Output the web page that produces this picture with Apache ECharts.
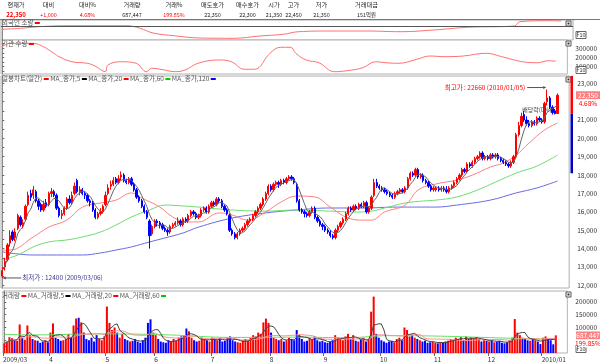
<!DOCTYPE html>
<html><head><meta charset="utf-8">
<script src="https://cdn.jsdelivr.net/npm/echarts@6.0.0/dist/echarts.min.js"></script>
<style>html,body{margin:0;padding:0;background:#fff;}#c{width:600px;height:363px;}</style></head>
<body><div id="c"></div>
<script>
const FONT = '"Noto Sans CJK KR","DejaVu Sans",sans-serif';

// ---- top table ----
const headers = ['현재가','대비','대비%','거래량','거래%','매도호가','매수호가','시가','고가','저가','거래대금'];
const headValues = ['22,350','+1,000','4.68%','687,447','199.85%','22,350','22,300','21,350','22,450','21,350','151억원'];

// ---- month labels (first trading day index) ----
const monthIdx = [0,18,40,59,81,104,125,147,168,189,210];
const monthLabels = ['2009/03','4','5','6','7','8','9','10','11','12','2010/01'];

// ---- daily prices (hundreds of won) ----
const opens = [125,130,134,143,149,146,151,157,153,156,
164,170,169,171,166,164,161,165,164,170,
171,169,162,158,159,162,167,165,170,177,
171,172,170,169,166,165,161,157,159,160,
164,170,174,175,178,176,179,180,177,176,
178,175,172,168,166,163,160,155,148,152,
155,154,153,151,150,149,152,153,154,155,
153,156,155,158,160,159,157,158,161,162,
160,163,165,164,167,166,163,161,158,150,
148,146,148,150,151,153,155,156,158,160,
162,164,167,170,174,172,175,176,175,177,
176,178,179,178,175,166,161,160,159,158,
160,162,157,155,153,152,150,149,147,146,
150,152,154,156,159,162,161,163,162,164,
163,165,160,162,169,176,174,173,172,171,
170,169,168,170,171,172,171,173,178,181,
180,183,179,180,177,176,174,172,172,173,
172,173,172,171,173,174,176,178,180,183,
182,186,185,187,189,190,192,189,190,189,
191,190,191,189,188,187,186,185,187,190,
202,207,213,210,208,207,209,208,211,210,
209,220,222,217,215,213.5];
const closes = [128,133,142,147,145,149,158,153,154,163,
169,168,172,166,163,161,164,163,170,171,
169,162,158,159,162,167,165,169,174,171,
172,170,169,166,165,161,157,159,160,163,
169,173,175,177,176,178,180,177,176,178,
175,172,168,166,163,160,157,147,152,155,
154,153,151,150,149,152,153,154,155,153,
156,155,158,160,159,157,158,161,162,160,
163,165,164,167,166,163,161,159,150,148,
146,148,150,151,153,155,156,158,160,162,
164,167,170,174,172,175,176,175,177,176,
178,179,178,176,166,161,160,159,158,160,
162,157,155,153,152,150,149,147,146,150,
152,154,156,159,162,161,163,162,164,163,
165,160,162,168,176,174,173,172,171,170,
169,168,170,171,172,171,173,178,181,180,
183,179,180,177,176,174,172,173,173,172,
173,172,171,173,174,176,178,180,183,182,
186,185,187,189,190,192,189,190,189,191,
190,191,189,188,187,186,185,187,190,202,
207,212,210,208,207,209,208,211,210,209,
219,222,217,214,213.5,223.5];
const lows = [124,128,133,141,144,144,150,152,151,155,
163,166,167,165,161,160,160,162,163,168,
168,161,157,156,158,161,164,164,169,170,
169,169,167,165,163,160,156,156,158,159,
163,169,172,174,175,175,177,176,175,175,
174,171,167,165,162,159,156,140,147,151,
152,151,150,149,147,148,151,152,153,152,
152,154,154,157,158,156,156,157,160,159,
159,162,163,163,165,162,160,158,149,147,
145,145,147,149,150,152,154,155,157,159,
161,163,166,169,171,171,174,173,174,175,
175,177,177,175,165,160,159,157,157,157,
159,156,154,152,150,149,148,146,145,145,
149,151,153,155,158,160,160,161,161,162,
162,159,159,161,168,173,172,171,170,169,
168,167,167,169,170,170,170,172,177,179,
179,178,178,176,175,173,171,171,171,171,
171,171,170,170,172,173,175,177,179,181,
181,184,184,186,188,189,188,188,188,188,
189,189,188,187,186,185,184,184,186,189,
201,206,209,207,206,206,207,207,209,208,
208,218,216,213,213,213.5];
const highs = [130,135,143,150,150,151,159,158,156,164,
171,172,174,172,167,165,166,167,171,173,
172,170,163,161,163,168,169,171,176,178,
174,173,171,170,167,166,162,160,162,164,
171,175,177,179,179,180,182,181,178,179,
179,176,173,169,167,164,161,156,153,156,
156,155,154,152,151,153,154,155,157,156,
157,157,159,161,161,160,159,162,163,163,
164,166,166,168,168,167,164,162,159,151,
149,149,151,152,154,156,157,159,161,163,
165,168,171,175,175,176,177,177,178,178,
179,180,180,179,176,167,162,161,160,161,
163,163,158,156,154,153,151,150,148,151,
153,155,157,160,163,163,164,164,165,165,
166,166,163,169,178,178,175,174,173,172,
171,170,171,172,173,173,174,179,182,182,
184,184,181,181,178,177,175,174,174,174,
174,174,174,174,175,177,179,181,184,184,
187,187,188,190,191,193,193,191,191,192,
192,192,192,190,189,188,187,188,191,203,
209,214,215,212,210,210,210,212,212,211,
220,226.6,223,218,216,224.5];

// ---- daily volume (thousands, axis units) ----
const volumes = [38,45,62,58,50,48,112,60,52,108,
70,55,50,48,40,45,50,42,80,116,
60,55,48,50,55,75,62,108,135,138,
120,80,55,50,60,45,70,55,50,65,
182,118,90,100,80,60,75,55,50,45,
48,55,45,40,50,60,118,132,80,70,
55,45,42,40,50,45,55,48,60,65,
70,96,85,60,50,45,48,60,55,50,
45,60,55,50,58,45,48,60,65,50,
45,42,40,50,55,48,60,70,65,80,
75,120,135,118,80,60,55,50,55,45,
50,60,55,50,90,70,55,45,48,60,
55,65,50,45,48,42,40,45,50,70,
60,55,50,65,75,55,70,48,45,55,
60,45,55,162,221,75,60,50,45,40,
45,48,42,55,60,50,100,90,65,70,
60,55,50,45,48,40,42,45,40,38,
42,40,45,48,55,50,60,55,62,50,
65,55,60,58,62,55,45,50,48,45,
50,42,45,48,40,38,42,50,60,133,
80,70,60,58,50,48,55,50,45,35,
60,65,55,50,34,69];

// ---- moving averages: [dayIndex, price] ----
const ma20Pts = [[0,13920],[3,13920],[12,14630],[18,15170],[25,15550],[31,16260],[38,16480],[44,16640],[50,17030],[54,16750],[61,16260],[66,15720],[71,15450],[76,15450],[84,15940],[89,15830],[95,15550],[102,15990],[108,16540],[114,16860],[121,16810],[127,16260],[134,15660],[140,15550],[143,15550],[148,15990],[156,16370],[161,17190],[168,17520],[176,17730],[182,18000],[189,18440],[194,18660],[199,19090],[204,19750],[210,20460],[215,20840]];
const ma60Pts = [[0,13380],[6,13650],[12,14090],[18,14360],[25,14470],[31,14630],[38,14900],[44,15280],[50,15720],[57,16100],[63,16370],[70,16320],[76,16260],[89,16100],[102,16040],[114,16100],[127,16040],[136,15990],[143,16040],[148,16210],[156,16480],[163,16590],[168,16640],[176,16810],[184,17190],[191,17620],[199,18110],[207,18490],[215,19090]];
const ma120Pts = [[0,13820],[12,13650],[31,13650],[38,13760],[44,13920],[50,14090],[57,14360],[63,14580],[70,14850],[76,15170],[89,15660],[102,15940],[114,16100],[127,16210],[140,16210],[153,16260],[168,16260],[176,16370],[189,16640],[199,17030],[207,17300],[215,17680]];

// ---- indicator panels: [dayIndex, value] ----
const foreignPts = [[0,-3.3],[7,-2.3],[14,-0.7],[25,0.3],[38,0.3],[48,0.3],[53,-2.3],[58,-7],[66,-9.7],[76,-12],[89,-12.3],[99,-10],[108,-8.3],[114,-5.7],[127,-5],[140,-5],[153,-5.7],[166,-4],[179,-1.3],[197,0],[199,4.3],[210,5.3],[215,5]];
const instPts = [[0,317],[3,354],[12,354],[16,317],[20,246],[22,209],[27,154],[33,137],[36,108],[40,46],[41,118],[46,154],[52,137],[56,46],[58,83],[63,64],[67,46],[71,64],[76,137],[84,173],[89,154],[94,72],[98,72],[104,246],[108,311],[112,311],[114,246],[118,173],[123,143],[129,46],[134,57],[140,89],[145,154],[149,143],[154,137],[161,180],[166,216],[172,209],[179,216],[188,246],[194,209],[202,154],[208,143],[212,165],[215,159]];
const volMa60Pts = [[0,73],[12,71],[38,75],[64,71],[89,61],[114,62],[134,60],[150,68],[170,66],[190,60],[205,56],[215,55]];

// axis labels
const priceTicks = [12000,13000,14000,15000,16000,17000,18000,19000,20000,21000,22000,23000];
const volTicks = [100,150,200];
const instTicks = [100,200,300];

// notes
const hiNote = {idx:211, price:22660, text:'최고가 : 22660 (2010/01/05)'};
const loNote = {idx:0, price:12400, text:'최저가 : 12400 (2009/03/06)'};
const exDivNote = {idx:207, price:21550, text:'배당락(0%)'};
const barBand = {top:23400, mid:21350, bottom:18100};
const lastPrice = 22350, lastPct = '4.68%', lastVol = 68.7447, lastVolPct = '199.85%';

// ---------------------------------------------------------
const N = 220;
const cats = Array.from({length:N},(_,i)=>String(i));
const candleData = closes.map((c,i)=>[opens[i]*100, c*100, lows[i]*100, highs[i]*100]);
function movAvg(arr, n, k){return arr.map((v,i)=>{const s=arr.slice(Math.max(0,i-n+1),i+1);return s.reduce((a,b)=>a+b,0)/s.length*k;});}
const ma5 = movAvg(closes,5,100).map((v,i)=>[i,v]);
const vma5 = movAvg(volumes,5,1).map((v,i)=>[i,v]);
const vma20 = movAvg(volumes,20,1).map((v,i)=>[i,v]);
const volData = volumes.map((v,i)=>({value:v,itemStyle:{color: closes[i]>=opens[i]?'#ff0000':'#0000ff'}}));

const grids = [
  {left:1, top:20, width:572, height:20},
  {left:1, top:40, width:572, height:34},
  {left:1, top:76, width:572, height:212},
  {left:1, top:291, width:572, height:62}
].map(g=>Object.assign(g,{show:true,borderColor:'#b0b0b0',borderWidth:1,backgroundColor:'#fff',containLabel:false}));

const catAxis = gi => ({type:'category', gridIndex:gi, data:cats, boundaryGap:true,
  axisLine:{show:false}, axisTick:{show:false}, axisLabel:{show:false},
  splitLine:{show:true, interval:(idx)=>idx===210, lineStyle:{color:'#c8c8c8',type:[1,2],width:1}}});
const valAxisX = (gi, extra) => Object.assign({type:'value', gridIndex:gi, min:-0.5, max:N-0.5, show:false}, extra||{});

const axLbl = {fontSize:6.5, color:'#333', fontFamily:FONT};
const option = {
  animation:false,
  backgroundColor:'#fff',
  grid: grids,
  xAxis:[catAxis(0),catAxis(1),catAxis(2),catAxis(3),
    valAxisX(0), valAxisX(1), valAxisX(2),
    valAxisX(3,{show:true, position:'bottom', axisLine:{show:false},
      splitLine:{show:false},
      axisTick:{show:true, customValues:monthIdx.map(i=>i-0.5), length:3, lineStyle:{color:'#666'}},
      axisLabel:{show:true, customValues:monthIdx.map(i=>i-0.5), align:'left', margin:3, ...axLbl,
        formatter:(v)=>{const k=monthIdx.indexOf(Math.round(v+0.5));return k>=0?monthLabels[k]:'';}}})],
  yAxis:[
    {type:'value', gridIndex:0, position:'right', min:-14, max:6, axisLine:{show:true,lineStyle:{color:'#888'}}, axisTick:{show:false}, axisLabel:{show:false}, splitLine:{show:false}},
    {type:'value', gridIndex:1, position:'right', min:20.65, max:390.2, axisLine:{show:true,lineStyle:{color:'#888'}},
      axisTick:{show:true,length:2,customValues:[50,100,150,200,250,300,350],lineStyle:{color:'#666'}},
      axisLabel:{show:true, customValues:instTicks, margin:8, ...axLbl, formatter:v=>String(v*1000)}, splitLine:{show:false}},
    {type:'value', gridIndex:2, position:'right', min:11853, max:23397, axisLine:{show:true,lineStyle:{color:'#888'}},
      axisTick:{show:true,length:2,customValues:priceTicks.flatMap(v=>[v,v+500]),lineStyle:{color:'#666'}},
      axisLabel:{show:true, customValues:priceTicks, margin:8, ...axLbl}, splitLine:{show:false}},
    {type:'value', gridIndex:3, position:'right', min:0, max:243, axisLine:{show:true,lineStyle:{color:'#888'}},
      axisTick:{show:true,length:2,customValues:[25,50,75,100,125,150,175,200,225],lineStyle:{color:'#666'}},
      axisLabel:{show:true, customValues:volTicks, margin:8, ...axLbl, formatter:v=>String(v*1000)}, splitLine:{show:false}}
  ],
  series:[
    {type:'line', xAxisIndex:4, yAxisIndex:0, data:foreignPts, smooth:0.4, symbol:'none', lineStyle:{color:'#ff7070',width:1},
      markLine:{silent:true, symbol:'none', label:{show:false}, data:[{yAxis:0}], lineStyle:{color:'#555',type:'solid',width:1}}},
    {type:'line', xAxisIndex:5, yAxisIndex:1, data:instPts, smooth:0.4, symbol:'none', lineStyle:{color:'#ff7070',width:1}},
    {type:'line', xAxisIndex:6, yAxisIndex:2, data:ma120Pts, smooth:0.4, symbol:'none', lineStyle:{color:'#6a6ae8',width:1}, z:1},
    {type:'line', xAxisIndex:6, yAxisIndex:2, data:ma60Pts, smooth:0.4, symbol:'none', lineStyle:{color:'#70dd70',width:1}, z:1},
    {type:'line', xAxisIndex:6, yAxisIndex:2, data:ma20Pts, smooth:0.4, symbol:'none', lineStyle:{color:'#ff8080',width:1}, z:1},
    {type:'candlestick', xAxisIndex:2, yAxisIndex:2, data:candleData, barWidth:1.8,
      itemStyle:{color:'#ff0000', color0:'#0000ff', borderColor:'#ff0000', borderColor0:'#0000ff', borderWidth:1}, z:3},
    {type:'line', xAxisIndex:6, yAxisIndex:2, data:ma5, symbol:'none', lineStyle:{color:'#666',width:1}, z:4},
    {type:'bar', xAxisIndex:3, yAxisIndex:3, data:volData, barWidth:2, z:2},
    {type:'line', xAxisIndex:7, yAxisIndex:3, data:volMa60Pts, smooth:0.4, symbol:'none', lineStyle:{color:'#66e066',width:1}, z:3},
    {type:'line', xAxisIndex:7, yAxisIndex:3, data:vma20, symbol:'none', lineStyle:{color:'#ff9090',width:1}, z:3},
    {type:'line', xAxisIndex:7, yAxisIndex:3, data:vma5, symbol:'none', lineStyle:{color:'#444',width:1}, z:4}
  ]
};

const chart = echarts.init(document.getElementById('c'), null, {renderer:'canvas'});
chart.setOption(option);

// ---------- decorations & text ----------
const G = [];
function ln(x1,y1,x2,y2,color,dash){G.push({type:'line',silent:true,shape:{x1,y1,x2,y2},style:{stroke:color,lineWidth:1,lineDash:dash||null},z:50});}
function tx(x,y,text,o){G.push({type:'text',silent:true,x,y,z:60,style:Object.assign({text,fontSize:7,fontFamily:FONT,fill:'#333',align:'left',verticalAlign:'middle'},o||{})});}
function box(x,y,w,h,fill,stroke){G.push({type:'rect',silent:true,shape:{x,y,width:w,height:h},style:{fill,stroke:stroke||null,lineWidth:1},z:55});}

// table
const colEdges=[0,32,65,110,154,194,231,264,284,303,340,393];
box(0,0,600,19,'#fff');
ln(0,9.5,393,9.5,'#999'); ln(393,9.5,600,9.5,'#aaa',[2,2]);
ln(0,19.5,600,19.5,'#777');
colEdges.forEach(x=>{ if(x>0) ln(x+0.5,0,x+0.5,19,'#999'); });
ln(427.5,0,427.5,19,'#aaa',[2,2]);
const redCols=[0,1,2,4];
headers.forEach((h,i)=>{const cx=(colEdges[i]+colEdges[i+1])/2;
  tx(cx,5,h,{align:'center',fontSize:6.2,fill:'#222'});
  tx(cx,14.5,headValues[i],{align:'center',fontSize:i===0?6:5.4,fontWeight:i===0?'bold':'normal',fill:redCols.includes(i)?'#ff0000':'#222'});});

// panel legends
const rich={t:{fontSize:6.5,fontFamily:FONT,fill:'#555'},
  r:{width:5,height:2,backgroundColor:'#ff0000'},k:{width:5,height:2,backgroundColor:'#000'},
  g:{width:5,height:2,backgroundColor:'#00cc00'},b:{width:5,height:2,backgroundColor:'#0000ff'}};
function legend(x,y,s){G.push({type:'text',silent:true,x,y,z:60,style:{text:s,rich,verticalAlign:'middle'}});}
legend(2,23,'{t|외국인 소량 }{r|}');
legend(2,44,'{t|기관 수량 }{r|}');
legend(2,79,'{t|일봉차트(일간) }{r|}{t| MA_종가,5 }{k|}{t| MA_종가,20 }{r|}{t| MA_종가,60 }{g|}{t| MA_종가,120 }{b|}');
legend(2,296,'{t|거래량 }{r|}{t| MA_거래량,5 }{k|}{t| MA_거래량,20 }{r|}{t| MA_거래량,60 }{g|}');

// small icons & F10 boxes
[21,41,77,292].forEach(y=>{box(566,y,5,5,'#fff','#555'); G.push({type:'rect',silent:true,shape:{x:567.5,y:y+1.5,width:2,height:2},style:{fill:'#333'},z:56});});
[35,70,349].forEach(y=>{box(576,y-3.5,10,7,'#fff','#666'); tx(581,y,'F10',{align:'center',fontSize:5.5,fill:'#333'});});

const P = (xi,yi,pt)=>chart.convertToPixel({xAxisIndex:xi,yAxisIndex:yi},pt);
// price band bar on axis
const bt=P(2,2,[0,barBand.top])[1], bm=P(2,2,[0,barBand.mid])[1], bb=P(2,2,[0,barBand.bottom])[1];
box(570.5,bt,2.5,bm-bt,'#ff0000');
box(570.5,bm,2.5,bb-bm,'#0000c0');

// current price / volume boxes
const yp=P(2,2,[0,lastPrice])[1];
box(576,yp-4,24,8,'#ff8080');
tx(588,yp,'22,350',{align:'center',fontSize:6.5,fill:'#fff'});
box(576,yp+4,24,8,'#fff');
tx(588,yp+8,lastPct,{align:'center',fontSize:6.5,fill:'#ff0000'});
const yv=P(3,3,[0,lastVol])[1];
box(576,yv-4,24,8,'#ff8080');
tx(588,yv,'687,447',{align:'center',fontSize:6.5,fill:'#fff'});
box(576,yv+4,24,8,'#fff');
tx(588,yv+8,lastVolPct,{align:'center',fontSize:6.5,fill:'#ff0000'});

// high / low / ex-dividend notes
const hp=P(2,2,[hiNote.idx,hiNote.price]);
ln(hp[0]-20,hp[1]-2,hp[0]-2,hp[1]-2,'#555');
G.push({type:'polygon',silent:true,shape:{points:[[hp[0]-1,hp[1]-2],[hp[0]-4,hp[1]-3.5],[hp[0]-4,hp[1]-0.5]]},style:{fill:'#555'},z:55});
tx(hp[0]-22,hp[1]-2,hiNote.text,{align:'right',fontSize:6.5,fill:'#ff0000'});
const lp=P(2,2,[loNote.idx,loNote.price]);
ln(lp[0]+1,lp[1],lp[0]+19,lp[1],'#555');
G.push({type:'polygon',silent:true,shape:{points:[[lp[0]+0.5,lp[1]],[lp[0]+3.5,lp[1]-1.5],[lp[0]+3.5,lp[1]+1.5]]},style:{fill:'#555'},z:55});
tx(lp[0]+20,lp[1],loNote.text,{align:'left',fontSize:6.5,fill:'#3a3a90'});
const ep=P(2,2,[exDivNote.idx,exDivNote.price]);
tx(ep[0],ep[1],exDivNote.text,{align:'center',fontSize:6,fill:'#444'});

chart.setOption({graphic:G});
</script></body></html>
